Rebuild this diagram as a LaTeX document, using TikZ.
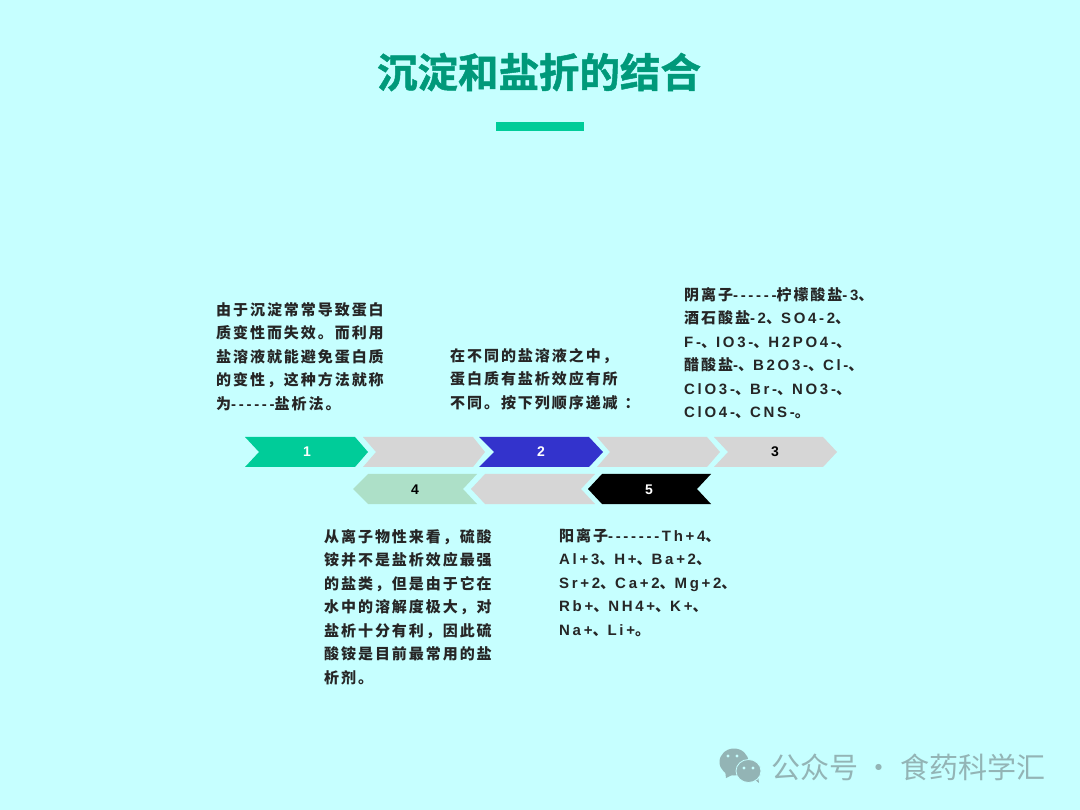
\documentclass[tikz,border=0pt]{standalone}
\usepackage{fontspec}
\setmainfont{Noto Sans CJK SC}
\newfontfamily\titlefont[FakeBold=1.2]{Noto Sans CJK SC Bold}
\newfontfamily\bodyfont[LetterSpace=13]{Noto Sans CJK SC}
\newfontfamily\latfont[LetterSpace=18]{Liberation Sans}
\newfontfamily\numfont{Liberation Sans}
\newcommand{\lat}[1]{{\latfont #1}}
\definecolor{pagebg}{HTML}{C6FFFF}
\definecolor{titlegreen}{HTML}{00997A}
\definecolor{mint}{HTML}{00CC99}
\definecolor{chevgray}{HTML}{D6D6D6}
\definecolor{chevblue}{HTML}{3333CC}
\definecolor{chevpale}{HTML}{ADE0C8}
\definecolor{markgray}{HTML}{93B4B5}
\tikzset{
  blurb/.style={anchor=north west, align=left, inner sep=0pt,
    font=\fontsize{15}{23.5}\selectfont\bfseries\bodyfont, text=black!85},
  chevnum/.style={font=\fontsize{14}{14}\selectfont\bfseries\numfont},
  markbubble/.style={fill=markgray, draw=pagebg, line width=0.8pt},
  markeye/.style={fill=pagebg, draw=none}
}
\begin{document}
\begin{tikzpicture}[x=1pt, y=-1pt]
  \fill[pagebg] (0, 0) rectangle (1080, 810);
  \useasboundingbox (0, 0) rectangle (1080, 810);

  \node[font=\fontsize{40.5}{40.5}\selectfont\titlefont, text=titlegreen] (title) at (539, 72) {沉淀和盐折的结合};
  \fill[mint] (496, 122) rectangle (584, 131);

  % chevrons pointing right: left, right, tip, notch
  \foreach \l/\r/\t/\n/\c in {245/355/368/259/mint, 363/473/485/376/chevgray,
    479/589/603/494/chevblue, 597/707/720/610/chevgray, 714/823/837/728/chevgray}
  {
    \fill[\c] (\l, 437) -- (\r, 437) -- (\t, 452) -- (\r, 467) -- (\l, 467) -- (\n, 452) -- cycle;
  }
  % chevrons pointing left: left, right, tip, notch
  \foreach \l/\r/\t/\n/\c in {368/477/353/463/chevpale, 485/595/471/581/chevgray,
    602/711/588/697/black}
  {
    \fill[\c] (\l, 474) -- (\r, 474) -- (\n, 489) -- (\r, 504) -- (\l, 504) -- (\t, 489) -- cycle;
  }

  \foreach \x/\y/\c/\k in {307/452/white/1, 541/452/white/2, 775/452/black/3,
    415/490/black/4, 649/490/white/5}
  {
    \node[chevnum, text=\c] (num\k) at (\x, \y) {\k};
  }

  \node[blurb] (blurbone) at (216, 302) {由于沉淀常常导致蛋白\\质变性而失效。而利用\\盐溶液就能避免蛋白质\\的变性，这种方法就称\\为\lat{------}盐析法。};
  \node[blurb] (blurbtwo) at (450, 348) {在不同的盐溶液之中，\\蛋白质有盐析效应有所\\不同。按下列顺序递减\hspace{7pt}：};
  \node[blurb] (blurbthree) at (684, 287) {阴离子\lat{------}柠檬酸盐\lat{-3}、\\酒石酸盐\lat{-2}、\lat{SO4-2}、\\\lat{F-}、\lat{IO3-}、\lat{H2PO4-}、\\醋酸盐\lat{-}、\lat{B2O3-}、\lat{Cl-}、\\\lat{ClO3-}、\lat{Br-}、\lat{NO3-}、\\\lat{ClO4-}、\lat{CNS-}。};
  \node[blurb] (blurbfour) at (324, 529) {从离子物性来看，硫酸\\铵并不是盐析效应最强\\的盐类，但是由于它在\\水中的溶解度极大，对\\盐析十分有利，因此硫\\酸铵是目前最常用的盐\\析剂。};
  \node[blurb] (blurbfive) at (559, 528) {阳离子\lat{-------Th+4}、\\\lat{Al+3}、\lat{H+}、\lat{Ba+2}、\\\lat{Sr+2}、\lat{Ca+2}、\lat{Mg+2}、\\\lat{Rb+}、\lat{NH4+}、\lat{K+}、\\\lat{Na+}、\lat{Li+}。};

  % watermark
  \fill[markgray] (725, 770) -- (726, 778) -- (734, 774) -- cycle;
  \fill[markgray] (754, 779) -- (759, 783) -- (758, 776) -- cycle;
  \draw[markbubble, draw=none] (734, 762) ellipse (14.5 and 13.5);
  \draw[markbubble] (748.5, 771) ellipse (12.5 and 11.5);
  \foreach \x/\y in {728/756, 737/756, 744/768, 753/768}
  {
    \fill[markeye] (\x, \y) circle (1.6);
  }
  \node[font=\fontsize{29}{29}\selectfont, text=markgray] (mark) at (908, 767) {公众号 · 食药科学汇};
\end{tikzpicture}
\end{document}
